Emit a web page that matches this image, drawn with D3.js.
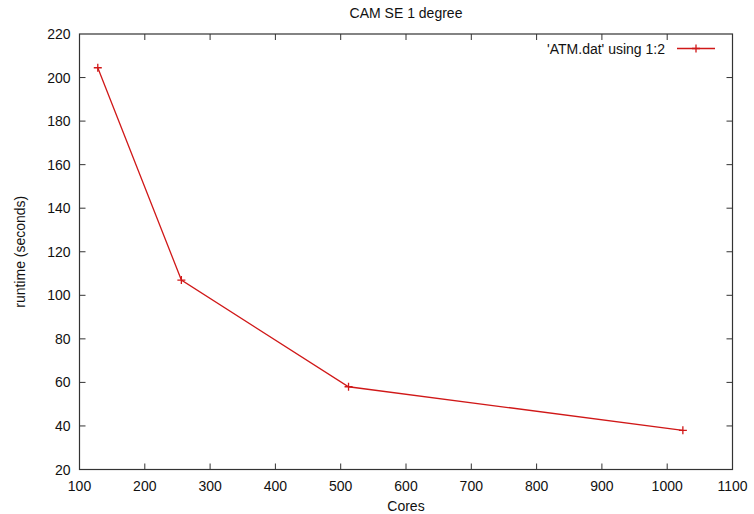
<!DOCTYPE html>
<html>
<head>
<meta charset="utf-8">
<script src="https://cdn.jsdelivr.net/npm/d3@7"></script>
<style>
  body { margin: 0; background: #fff; }
  text { font-family: "Liberation Sans", Arial, Helvetica, sans-serif; font-size: 14px; fill: #111; }
</style>
</head>
<body>
<svg id="chart" width="754" height="514"></svg>
<script>
// data
var cores = [128, 256, 512, 1024];
var runtime = [204.5, 107, 58, 38];
var xTicks = [100, 200, 300, 400, 500, 600, 700, 800, 900, 1000, 1100];
var yTicks = [20, 40, 60, 80, 100, 120, 140, 160, 180, 200, 220];

var svg = d3.select('#chart');
var margin = { left: 79.5, right: 754 - 732.5, top: 34, bottom: 514 - 469.5 };
var w = 754 - margin.left - margin.right;
var h = 514 - margin.top - margin.bottom;

var x = d3.scaleLinear().domain([100, 1100]).range([margin.left, margin.left + w]);
var y = d3.scaleLinear().domain([20, 220]).range([margin.top + h, margin.top]);

var axisColor = '#333';
var tickLen = 6;

// inward ticks, mirrored on the opposite side
var g = svg.append('g');
xTicks.forEach(function(t) {
  if (t > 100 && t < 1100) {
    g.append('line').attr('x1', x(t)).attr('x2', x(t))
      .attr('y1', y(20)).attr('y2', y(20) - tickLen)
      .attr('stroke', axisColor);
    g.append('line').attr('x1', x(t)).attr('x2', x(t))
      .attr('y1', y(220)).attr('y2', y(220) + tickLen)
      .attr('stroke', axisColor);
  }
  svg.append('text').attr('x', x(t)).attr('y', y(20) + 21)
    .attr('text-anchor', 'middle').text(t);
});
yTicks.forEach(function(t) {
  if (t > 20 && t < 220) {
    g.append('line').attr('x1', x(100)).attr('x2', x(100) + tickLen)
      .attr('y1', y(t)).attr('y2', y(t))
      .attr('stroke', axisColor);
    g.append('line').attr('x1', x(1100)).attr('x2', x(1100) - tickLen)
      .attr('y1', y(t)).attr('y2', y(t))
      .attr('stroke', axisColor);
  }
  svg.append('text').attr('x', x(100) - 9).attr('y', y(t) + 5)
    .attr('text-anchor', 'end').text(t);
});

svg.append('rect')
  .attr('x', x(100)).attr('y', y(220))
  .attr('width', x(1100) - x(100)).attr('height', y(20) - y(220))
  .attr('fill', 'none').attr('stroke', axisColor).attr('stroke-width', 1.2);

// series
var pts = cores.map(function(c, i) { return [c, runtime[i]]; });
var red = '#d01818';
var line = d3.line().x(function(d) { return x(d[0]); }).y(function(d) { return y(d[1]); });
svg.append('path').datum(pts).attr('d', line)
  .attr('fill', 'none').attr('stroke', red).attr('stroke-width', 1.3);

function plus(cx, cy) {
  var s = 4;
  svg.append('path')
    .attr('d', 'M' + (cx - s) + ',' + cy + 'H' + (cx + s) + 'M' + cx + ',' + (cy - s) + 'V' + (cy + s))
    .attr('stroke', red).attr('stroke-width', 1.3);
}
pts.forEach(function(d) { plus(x(d[0]), y(d[1])); });

// legend
var ly = 48.5;
svg.append('text').attr('x', 665).attr('y', ly + 5)
  .attr('text-anchor', 'end').text("'ATM.dat' using 1:2");
svg.append('line').attr('x1', 677).attr('x2', 715).attr('y1', ly).attr('y2', ly)
  .attr('stroke', red).attr('stroke-width', 1.3);
plus(696, ly);

// titles
svg.append('text').attr('x', (x(100) + x(1100)) / 2).attr('y', 18)
  .attr('text-anchor', 'middle').text('CAM SE 1 degree');
svg.append('text').attr('x', (x(100) + x(1100)) / 2).attr('y', 511)
  .attr('text-anchor', 'middle').text('Cores');
svg.append('text')
  .attr('transform', 'translate(25,' + (y(120) + 0) + ') rotate(-90)')
  .attr('text-anchor', 'middle').text('runtime (seconds)');
</script>
</body>
</html>
